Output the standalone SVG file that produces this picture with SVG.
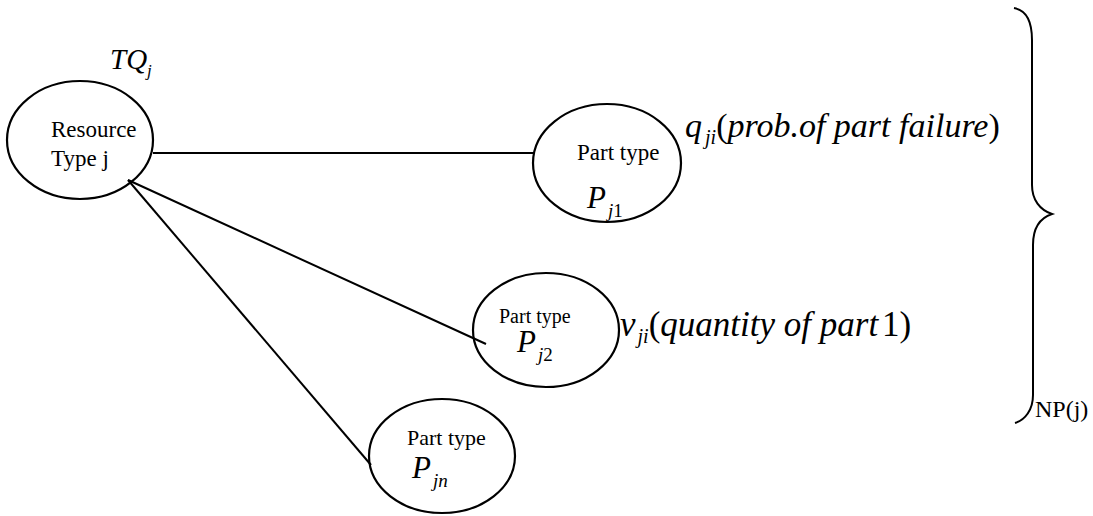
<svg xmlns="http://www.w3.org/2000/svg" width="1093" height="516" viewBox="0 0 1093 516">
<style>
.node{fill:none;stroke:#000;stroke-width:2.2}
.edge{stroke:#000;stroke-width:2;fill:none}
text{font-family:"Liberation Serif","DejaVu Serif",serif;fill:#000}
.i{font-style:italic}
.n{font-style:normal}
</style>
<rect width="1093" height="516" fill="#fff"/>
<g id="connectors">
<line class="edge" x1="153" y1="153" x2="534" y2="153"/>
<line class="edge" x1="128" y1="180" x2="486" y2="344"/>
<line class="edge" x1="128" y1="180" x2="371" y2="465"/>
</g>
<g id="resource">
<ellipse class="node" cx="80" cy="140" rx="73" ry="59"/>
<text x="51" y="137" font-size="23">Resource</text>
<text x="51" y="166" font-size="23">Type j</text>
<text class="i" x="110" y="69" font-size="29">TQ<tspan font-size="17" dy="7">j</tspan></text>
</g>
<g id="part1">
<ellipse class="node" cx="607" cy="163" rx="74" ry="59"/>
<text x="577" y="160" font-size="23">Part type</text>
<text class="i" x="587" y="208" font-size="31">P<tspan font-size="19" dx="2" dy="9">j</tspan><tspan class="n" font-size="19">1</tspan></text>
</g>
<g id="part2">
<ellipse class="node" cx="546" cy="330" rx="73" ry="57"/>
<text x="499" y="323" font-size="20">Part type</text>
<text class="i" x="517" y="352" font-size="31">P<tspan font-size="19" dx="2" dy="9">j</tspan><tspan class="n" font-size="19">2</tspan></text>
</g>
<g id="partn">
<ellipse class="node" cx="442" cy="456" rx="73" ry="57"/>
<text x="407" y="445" font-size="22">Part type</text>
<text class="i" x="412" y="478" font-size="31">P<tspan font-size="19" dx="2" dy="9">jn</tspan></text>
</g>
<g id="labels">
<text class="i" x="685" y="137" font-size="34">q<tspan font-size="20" dx="3" dy="7">ji</tspan><tspan class="n" dy="-7">(</tspan>prob.of  part failure<tspan class="n">)</tspan></text>
<text class="i" x="620" y="336" font-size="35">v<tspan font-size="20" dx="2" dy="7">ji</tspan><tspan class="n" dy="-7">(</tspan>quantity of  part<tspan class="n" dx="4">1)</tspan></text>
</g>
<g id="brace">
<path class="edge" stroke-width="2.4" d="M1014,8 C1026,10 1032,20 1032,40 L1032,185 C1032,200 1040,210 1052,214 C1040,218 1033,228 1033,245 L1033,395 C1033,410 1025,420 1015,423"/>
<text x="1035" y="417" font-size="24">NP(j)</text>
</g>
</svg>
